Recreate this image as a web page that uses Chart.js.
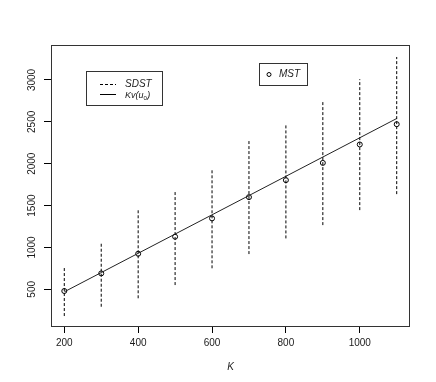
<!DOCTYPE html>
<html>
<head>
<meta charset="utf-8">
<script src="https://cdn.jsdelivr.net/npm/chart.js@4/dist/chart.umd.min.js"></script>
<style>
  html, body { margin: 0; padding: 0; background: #fff; }
  #wrap { width: 436px; height: 382px; }
</style>
</head>
<body>
<div id="wrap"><canvas id="chart" width="436" height="382"></canvas></div>
<script>
// ─── Data ────────────────────────────────────────────────────
const kValues   = [200, 300, 400, 500, 600, 700, 800, 900, 1000, 1100];
const mstValues = [480, 690, 925, 1128, 1347, 1601, 1804, 2010, 2230, 2472];
const kvValues  = [470, 700, 930, 1160, 1390, 1620, 1850, 2080, 2310, 2540];
const sdstLow   = [181, 292, 393, 551, 751, 921, 1108, 1267, 1446, 1637];
const sdstHigh  = [778, 1056, 1446, 1685, 1944, 2273, 2460, 2746, 3009, 3275];
const xTicks    = [200, 400, 600, 800, 1000];
const yTicks    = [500, 1000, 1500, 2000, 2500, 3000];

const FONT = '"Liberation Sans", Arial, Helvetica, sans-serif';
const INK = '#1a1a1a';

// dashed vertical segments, broken by null points
const sdstPoints = [];
kValues.forEach((k, i) => {
  sdstPoints.push({ x: k, y: sdstLow[i] });
  sdstPoints.push({ x: k, y: sdstHigh[i] });
  sdstPoints.push({ x: k, y: null });
});

// ─── Plugins: frame, rotated y labels, legends ───────────────
const decor = {
  id: 'decor',
  afterDraw(chart) {
    const { ctx, chartArea: a, scales } = chart;
    ctx.save();

    // plot frame
    ctx.strokeStyle = '#333';
    ctx.lineWidth = 1;
    ctx.strokeRect(a.left + 0.5, a.top + 0.5, a.right - a.left - 1, a.bottom - a.top);

    // y tick labels, rotated like R's las=0
    ctx.fillStyle = INK;
    ctx.font = '10px ' + FONT;
    ctx.textAlign = 'center';
    ctx.textBaseline = 'middle';
    yTicks.forEach(v => {
      const py = scales.y.getPixelForValue(v);
      ctx.save();
      ctx.translate(32, py);
      ctx.rotate(-Math.PI / 2);
      ctx.fillText(String(v), 0, 0);
      ctx.restore();
    });

    // legend 1: SDST / Kv(u0)
    ctx.strokeStyle = '#333';
    ctx.strokeRect(86.5, 71.5, 76, 34);
    ctx.strokeStyle = '#000';
    ctx.setLineDash([3, 2]);
    ctx.beginPath(); ctx.moveTo(100, 84.5); ctx.lineTo(116, 84.5); ctx.stroke();
    ctx.setLineDash([]);
    ctx.beginPath(); ctx.moveTo(100, 94.5); ctx.lineTo(116, 94.5); ctx.stroke();

    ctx.textAlign = 'left';
    ctx.font = 'italic 10px ' + FONT;
    ctx.fillText('SDST', 125, 84);
    ctx.font = 'italic 9px ' + FONT;
    ctx.fillText('Kv(u', 125, 95);
    let w = ctx.measureText('Kv(u').width;
    ctx.font = '6px ' + FONT;
    ctx.fillText('0', 125 + w, 98);
    const w0 = ctx.measureText('0').width;
    ctx.font = 'italic 9px ' + FONT;
    ctx.fillText(')', 125 + w + w0 + 0.5, 95);

    // legend 2: MST
    ctx.strokeStyle = '#333';
    ctx.strokeRect(259.5, 63.5, 48, 22);
    ctx.strokeStyle = '#000';
    ctx.beginPath(); ctx.arc(269, 74.5, 2, 0, Math.PI * 2); ctx.stroke();
    ctx.font = 'italic 10px ' + FONT;
    ctx.fillText('MST', 279, 74.5);

    ctx.restore();
  }
};

// ─── Chart ───────────────────────────────────────────────────
new Chart(document.getElementById('chart'), {
  type: 'scatter',
  data: {
    datasets: [
      {
        label: 'SDST',
        data: sdstPoints,
        showLine: true,
        spanGaps: false,
        borderColor: '#000',
        borderWidth: 1,
        borderDash: [3, 2],
        pointRadius: 0,
        pointHoverRadius: 0,
      },
      {
        label: 'Kv(u0)',
        data: kValues.map((k, i) => ({ x: k, y: kvValues[i] })),
        showLine: true,
        borderColor: '#222',
        borderWidth: 1,
        pointRadius: 0,
        pointHoverRadius: 0,
      },
      {
        label: 'MST',
        data: kValues.map((k, i) => ({ x: k, y: mstValues[i] })),
        pointStyle: 'circle',
        pointRadius: 2.5,
        borderColor: '#000',
        borderWidth: 1,
        backgroundColor: 'rgba(0,0,0,0)',
      }
    ]
  },
  options: {
    responsive: false,
    animation: false,
    devicePixelRatio: 1,
    layout: { padding: { left: 0, top: 45, right: 26, bottom: 9 } },
    plugins: {
      legend: { display: false },
      tooltip: { enabled: false }
    },
    scales: {
      x: {
        type: 'linear',
        min: 164,
        max: 1136,
        afterBuildTicks: scale => { scale.ticks = xTicks.map(v => ({ value: v })); },
        afterFit: scale => { scale.height = 47; },
        border: { display: false },
        grid: { drawOnChartArea: false, drawTicks: true, tickLength: 7, color: '#000' },
        ticks: {
          color: INK,
          font: { family: FONT, size: 10 },
          padding: 4,
          maxRotation: 0,
          callback: v => String(v)
        },
        title: {
          display: true,
          text: 'K',
          color: INK,
          font: { family: FONT, size: 10, style: 'italic' },
          padding: 0
        }
      },
      y: {
        type: 'linear',
        min: 62,
        max: 3418,
        afterBuildTicks: scale => { scale.ticks = yTicks.map(v => ({ value: v })); },
        afterFit: scale => { scale.width = 51; },
        border: { display: false },
        grid: { drawOnChartArea: false, drawTicks: true, tickLength: 7, color: '#000' },
        ticks: { display: false }
      }
    }
  },
  plugins: [decor]
});
</script>
</body>
</html>
